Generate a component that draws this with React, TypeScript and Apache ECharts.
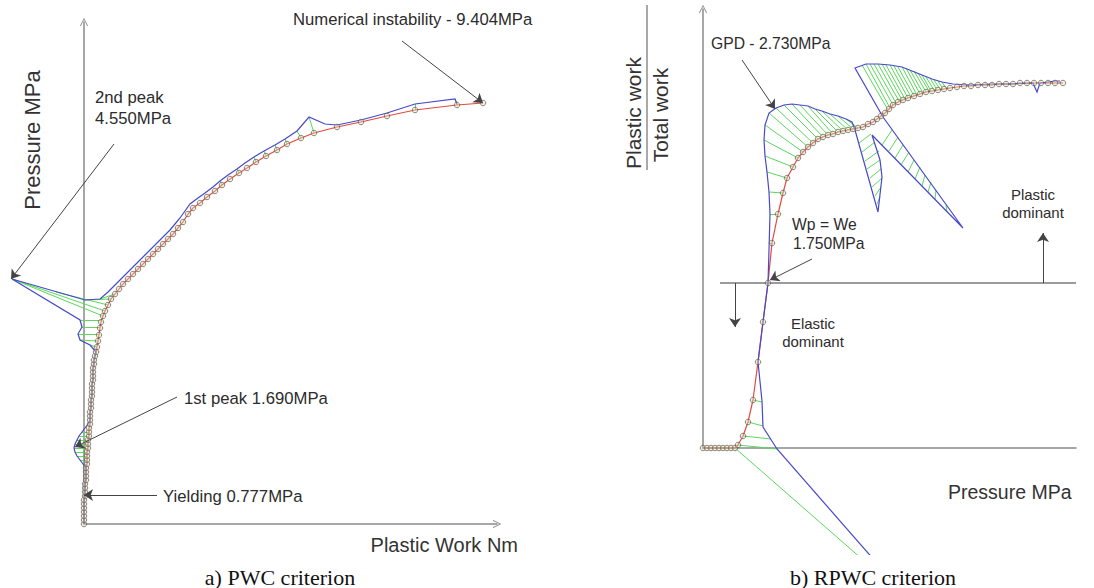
import React, { useEffect, useRef } from "react";
import * as echarts from "echarts";

// ---------- a) PWC criterion : Pressure vs plastic work (axis units) ----------
const pwcSmooth: number[][] = [
  [0,0],[0,4],[0,8],[0,12],[0,16],[0,20],[0,24],[1,28],[1,32],[1,36],[1,40],[2,44],[2,48],[2,52],[2,56],
  [3,60],[3,64],[3,68],[3,72],[4,76],[4,80],[4,84],[5,88],[5,92],[5,96],[6,100],[6,104],[6,108],[6,112],
  [7,116],[7,120],[7,124],[8,128],[8,132],[8,136],[8,140],[9,144],[9,148],[9,152],[9,156],[10,160],[10,164],
  [11,168],[12,172],[13,177],[14,183],[15,189],[16,196],[17,202],[19,208],[21,213],[24,219],[27,225],[31,230],
  [35,235],[39,240],[44,245],[49,250],[54,255],[59,260],[64,265],[69,270],[74,275],[79,280],[84,285],[89,290],
  [94,296],[99,302],[104,310],[109,316],[116,321],[123,327],[131,333],[138,339],[146,345],[155,351],[163,356],
  [172,362],[182,368],[193,374],[203,380],[217,386],[230,391],[253,397],[277,402],[303,408],[331,414],[373,419],[399,421]
];
const pwcRaw: number[][] = [
  [0,0],[0,4],[0,8],[0,12],[0,16],[0,20],[0,24],[1,28],[1,32],[1,36],[1,40],[2,44],[2,48],[2,52],[2,56],
  [-1,60],[-4,64],[-7,68],[-9,72],[-10,76],[-9,80],[-7,84],[-5,88],[-2,92],[1,96],[4,100],[6,104],[6,108],[6,112],
  [7,116],[7,120],[7,124],[8,128],[8,132],[8,136],[8,140],[9,144],[9,148],[9,152],[9,156],[10,160],[10,164],
  [11,168],[12,172],[6,179],[-4,184],[-6,190],[-2,197],[-4,204],[-72,245],[1,224],[16,225],[24,232],[31,239],
  [36,244],[41,249],[46,254],[51,259],[56,264],[61,269],[66,274],[71,279],[76,284],[81,289],[86,294],[91,300],
  [96,306],[101,313],[106,320],[114,326],[121,331],[129,337],[136,343],[144,349],[153,355],[161,361],[170,367],
  [180,373],[191,379],[201,385],[213,393],[225,407],[241,400],[253,399],[277,404],[303,411],[331,420],[371,425],[373,420]
];
const pwcHatch: number[][][] = [
  [[3,60],[-1,60]],[[3,64],[-4,64]],[[3,68],[-7,68]],[[3,72],[-9,72]],[[4,76],[-10,76]],[[4,80],[-9,80]],
  [[4,84],[-7,84]],[[5,88],[-5,88]],[[5,92],[-2,92]],
  [[13,177],[6,179]],[[14,183],[-4,184]],[[15,190],[-6,190]],[[16,197],[-2,197]],[[17,204],[-4,204]],
  [[19,208],[-72,245]],[[21,213],[-72,245]],[[24,219],[-28,232]],[[27,225],[1,224]],[[31,230],[16,225]],
  [[138,339],[136,343]],[[155,351],[153,355]],[[172,362],[170,367]],[[182,368],[180,373]],[[193,374],[191,379]],
  [[203,380],[201,385]],[[217,386],[213,393]],[[230,391],[225,407]],[[331,414],[331,420]],[[373,419],[371,425]]
];
const pwcArrows: number[][][] = [
  [[318,483],[399,421]],
  [[30,380],[-73,245]],
  [[93,127],[-9,77]],
  [[73,29],[0,29]]
];

// ---------- b) RPWC criterion : Plastic work / Total work vs pressure ----------
const rpwcSmooth: number[][] = [
  [0,0],[4,0],[8,0],[12,0],[16,0],[20,0],[24,0],[28,0],[32,0],[35,3],[40,12],[45,26],[50,48],[55,86],[60,126],
  [65,165],[69,205],[75,234],[80,255],[84,270],[90,281],[95,290],[100,296],[105,301],[110,305],[115,309],[120,311],
  [125,313],[130,314],[135,316],[140,317],[145,318],[150,319],[155,320],[160,321],[165,324],[170,326],[174,329],
  [178,332],[182,335],[186,339],[190,343],[195,346],[200,348],[205,350],[211,352],[217,354],[223,356],[229,357],
  [235,358],[241,359],[247,360],[254,361],[261,362],[268,362],[275,363],[282,363],[289,363],[296,364],[303,364],
  [310,364],[317,365],[324,365],[331,365],[338,365],[345,365],[352,365],[360,365]
];
const rpwcRaw: number[][] = [
  [207,-153],[74,-1],[60,21],[59,47],[55,86],[60,126],[65,165],[66,198],[67,234],[66,256],[64,276],[62,292],
  [61,308],[62,323],[66,335],[73,340],[81,343],[89,344],[97,343],[105,342],[112,339],[119,337],[127,334],
  [135,332],[143,329],[149,326],[152,318],[175,236],[179,271],[177,288],[169,313],[260,220],[180,331],[152,380],
  [163,384],[175,384],[187,383],[199,381],[209,377],[219,373],[229,369],[239,366],[250,364],[267,363],[287,364],
  [307,364],[330,365],[334,356],[337,365],[352,367],[357,367]
];
const rpwcHatch: number[][][] = [
  [[32,0],[207,-153]],[[35,3],[74,-1]],[[40,12],[68,9]],[[45,26],[60,22]],[[50,48],[59,46]],
  [[69,205],[66,205]],[[75,234],[67,234]],[[80,255],[66,256]],[[84,270],[64,276]],[[90,281],[62,292]],
  [[95,290],[61,308]],[[100,296],[62,323]],[[105,301],[66,335]],[[110,305],[73,340]],[[115,309],[81,343]],
  [[120,311],[89,344]],[[125,313],[97,343]],[[130,314],[105,342]],[[135,316],[112,339]],[[140,317],[119,337]],
  [[145,318],[127,334]],[[150,319],[135,332]],[[155,320],[143,329]],
  [[168,314],[156,305]],[[172,306],[159,296]],[[176,297],[162,287]],[[177,288],[164,279]],[[178,279],[167,270]],
  [[179,270],[169,261]],[[178,261],[172,252]],[[177,251],[174,244]],
  [[189,318],[179,303]],[[195,311],[186,297]],[[200,303],[192,290]],[[206,296],[198,283]],[[211,288],[205,276]],
  [[217,281],[212,269]],[[222,273],[219,262]],[[228,266],[225,256]],[[233,258],[232,249]],[[243,243],[244,236]],
  [[159,383],[185,338]],[[163,384],[187,340]],[[167,384],[190,343]],[[171,384],[193,345]],[[175,384],[196,347]],
  [[179,384],[199,348]],[[183,383],[202,349]],[[187,383],[205,350]],[[191,382],[208,351]],[[195,381],[211,352]],
  [[199,381],[214,353]],[[203,380],[217,354]],[[207,378],[220,355]],[[211,377],[223,356]],[[215,375],[226,357]],
  [[219,373],[228,357]],[[223,371],[231,358]],[[227,370],[234,358]],[[231,368],[237,359]],[[235,367],[240,359]],
  [[239,366],[243,360]]
];
const rpwcArrows: number[][][] = [
  [[39,388],[72,339]],
  [[109,189],[67,168]],
  [[32,165],[32,121]],
  [[340,165],[340,215]]
];
const rpwcHalfLine: number[][] = [[17,165],[373,165]];

const SANS = '"Liberation Sans", Arial, sans-serif';
const SERIF = '"Liberation Serif", "Times New Roman", serif';
const RED = "#e24a3e";
const BLUE = "#4848cc";
const GREEN = "#5ad85a";
const AXIS = "#8a8a8a";
const OPEN_ARROW = "path://M0,10L5,0L10,10L9,10.8L5,2.4L1,10.8Z";

function txt(text: string, x: number, y: number, size: number, align = "left", rotation = 0, family = SANS, color = "#2c2c2c") {
  return {
    type: "text", x, y, rotation, z: 100,
    style: { text, fontSize: size, fontFamily: family, fill: color, align, verticalAlign: "middle", textAlign: align, textVerticalAlign: "middle" }
  };
}

function panelSeries(idx: number, smooth: number[][], raw: number[][], hatch: number[][][], arrows: number[][][]) {
  const base = { type: "lines", coordinateSystem: "cartesian2d", xAxisIndex: idx, yAxisIndex: idx, clip: false, silent: true };
  return [
    { ...base, z: 1, lineStyle: { color: GREEN, width: 1, opacity: 1 }, data: hatch.map((h) => ({ coords: h })) },
    { ...base, z: 2, polyline: true, lineStyle: { color: RED, width: 1.2, opacity: 1 }, data: [{ coords: smooth }] },
    { ...base, z: 3, polyline: true, lineStyle: { color: BLUE, width: 1.2, opacity: 1 }, data: [{ coords: raw }] },
    {
      type: "scatter", xAxisIndex: idx, yAxisIndex: idx, data: smooth, clip: false, silent: true, z: 4,
      symbol: "circle", symbolSize: 5.5,
      itemStyle: { color: "rgba(225,220,190,0.5)", borderColor: "#5a5a4a", borderWidth: 0.9 }
    },
    {
      ...base, z: 5, symbol: ["none", "arrow"], symbolSize: 9,
      lineStyle: { color: "#444", width: 1, opacity: 1 }, data: arrows.map((a) => ({ coords: a }))
    }
  ];
}

export default function App() {
  const ref = useRef<HTMLDivElement>(null);
  useEffect(() => {
    if (!ref.current) return;
    const chart = echarts.init(ref.current, undefined, { renderer: "svg" });
    const axisCommon = { type: "value", axisTick: { show: false }, axisLabel: { show: false }, splitLine: { show: false } };
    chart.setOption({
      animation: false,
      backgroundColor: "#ffffff",
      grid: [
        { left: 84, top: 22, width: 413, height: 502 },
        { left: 703, top: 9, width: 373, height: 439 }
      ],
      xAxis: [
        { ...axisCommon, gridIndex: 0, min: 0, max: 413,
          axisLine: { show: true, onZero: false, symbol: ["none", OPEN_ARROW], symbolSize: [8, 10], lineStyle: { color: AXIS, width: 1.5 } } },
        { ...axisCommon, gridIndex: 1, min: 0, max: 373,
          axisLine: { show: true, onZero: false, lineStyle: { color: AXIS, width: 1.5 } } }
      ],
      yAxis: [
        { ...axisCommon, gridIndex: 0, min: 0, max: 502,
          axisLine: { show: true, onZero: false, symbol: ["none", OPEN_ARROW], symbolSize: [8, 10], lineStyle: { color: AXIS, width: 1.5 } } },
        { ...axisCommon, gridIndex: 1, min: 0, max: 439,
          axisLine: { show: true, onZero: false, symbol: ["none", OPEN_ARROW], symbolSize: [8, 10], lineStyle: { color: AXIS, width: 1.5 } } }
      ],
      series: [
        ...panelSeries(0, pwcSmooth, pwcRaw, pwcHatch, pwcArrows),
        ...panelSeries(1, rpwcSmooth, rpwcRaw, rpwcHatch, rpwcArrows),
        {
          type: "lines", coordinateSystem: "cartesian2d", xAxisIndex: 1, yAxisIndex: 1, clip: false, silent: true, z: 0,
          lineStyle: { color: "#7a7a7a", width: 1.5, opacity: 1 }, data: [{ coords: rpwcHalfLine }]
        }
      ],
      graphic: [
        { type: "rect", shape: { x: 560, y: 555, width: 534, height: 40 }, style: { fill: "#ffffff" }, z: 90 },
        txt("Numerical instability - 9.404MPa", 293, 19, 16.7),
        txt("2nd peak", 95, 97, 16.7),
        txt("4.550MPa", 95, 118, 16.7),
        txt("1st peak 1.690MPa", 184, 398, 16.7),
        txt("Yielding 0.777MPa", 163, 496, 16.7),
        txt("Pressure MPa", 32, 140, 22, "center", Math.PI / 2, SANS, "#333"),
        txt("Plastic Work Nm", 518, 545, 20, "right", 0, SANS, "#333"),
        txt("a) PWC criterion", 280, 577, 22, "center", 0, SERIF, "#111"),
        txt("GPD - 2.730MPa", 711, 43, 15.7),
        txt("Wp = We", 792, 224, 15.7),
        txt("1.750MPa", 793, 243, 15.7),
        txt("Elastic", 813, 323, 15, "center"),
        txt("dominant", 813, 341, 15, "center"),
        txt("Plastic", 1033, 194, 15, "center"),
        txt("dominant", 1033, 212, 15, "center"),
        txt("Plastic work", 633, 113, 21, "center", Math.PI / 2, SANS, "#333"),
        txt("Total work", 660, 115, 21, "center", Math.PI / 2, SANS, "#333"),
        { type: "line", shape: { x1: 647, y1: 5, x2: 647, y2: 170 }, style: { stroke: "#555", lineWidth: 1 }, z: 100 },
        txt("Pressure MPa", 948, 492, 19.5, "left", 0, SANS, "#333"),
        txt("b) RPWC criterion", 873, 577, 22, "center", 0, SERIF, "#111")
      ]
    });
    return () => chart.dispose();
  }, []);
  return <div ref={ref} style={{ position: "absolute", left: 0, top: 0, width: 1094, height: 588 }} />;
}
